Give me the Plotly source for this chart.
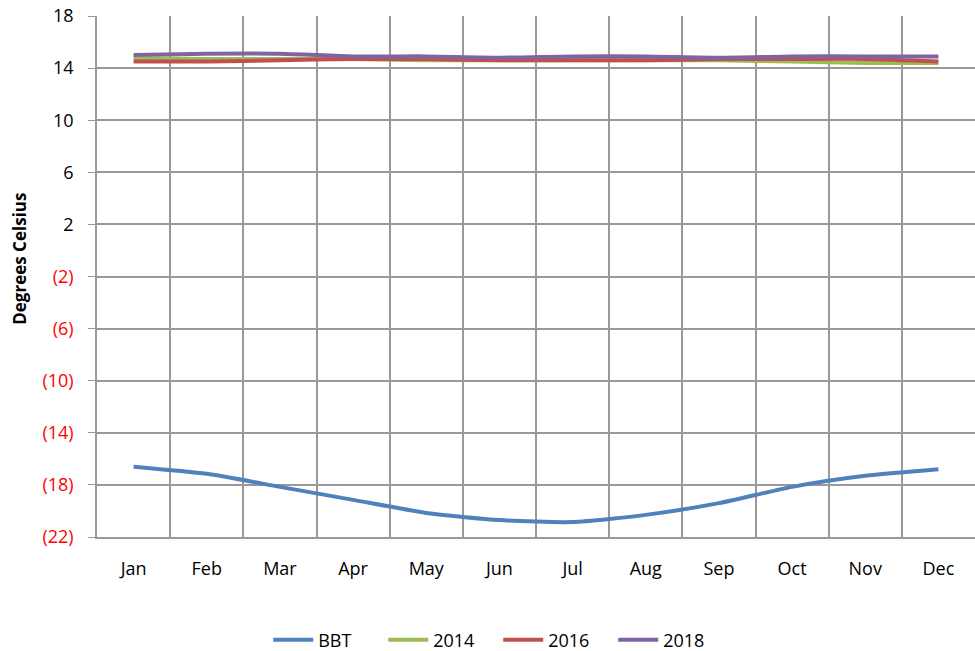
import plotly.graph_objects as go

months = ["Jan", "Feb", "Mar", "Apr", "May", "Jun", "Jul", "Aug", "Sep", "Oct", "Nov", "Dec"]
bbt = [-16.6, -17.15, -18.15, -19.15, -20.15, -20.7, -20.85, -20.3, -19.4, -18.15, -17.3, -16.8]
y2014 = [14.75, 14.7, 14.7, 14.7, 14.6, 14.6, 14.6, 14.6, 14.6, 14.5, 14.4, 14.4]
y2016 = [14.5, 14.5, 14.6, 14.7, 14.7, 14.6, 14.6, 14.6, 14.7, 14.7, 14.7, 14.5]
y2018 = [15.0, 15.1, 15.1, 14.9, 14.9, 14.8, 14.9, 14.9, 14.8, 14.9, 14.9, 14.9]

tick_vals = [18, 14, 10, 6, 2, -2, -6, -10, -14, -18, -22]
tick_text = [str(v) if v > 0 else '<span style="color:#ff0000">(%d)</span>' % abs(v) for v in tick_vals]

series = [("BBT", bbt, "#4f81bd"), ("2014", y2014, "#9bbb59"),
          ("2016", y2016, "#c0504d"), ("2018", y2018, "#8064a2")]

fig = go.Figure()
for name, vals, col in series:
    fig.add_trace(go.Scatter(x=months, y=vals, name=name, mode="lines",
                             line=dict(color=col, width=4, shape="spline", smoothing=0.6)))

fig.update_layout(
    width=975, height=651,
    margin=dict(l=97, r=0, t=16, b=114, autoexpand=False),
    paper_bgcolor="white", plot_bgcolor="white",
    font=dict(family="Open Sans, Lato, sans-serif", size=18, color="#000000"),
    legend=dict(orientation="h", x=0.457, xanchor="center", y=-0.198, yanchor="middle",
                font=dict(size=18), itemwidth=40, entrywidth=60, entrywidthmode="pixels"),
    showlegend=True,
)
fig.add_annotation(text="<b>Degrees Celsius</b>", xref="paper", yref="paper",
                   x=-0.0877, y=0.534, xanchor="center", yanchor="middle",
                   textangle=-90, showarrow=False,
                   font=dict(size=17, color="#000000"))
fig.update_xaxes(type="category", tickson="boundaries", range=[-0.5, 11.5],
                 showgrid=True, gridcolor="#999999",
                 gridwidth=1.5, showline=True, linecolor="#999999", linewidth=1.5,
                 ticks="", tickfont=dict(size=18), ticklabelstandoff=15, automargin=False)
fig.update_yaxes(range=[-22, 18], tickvals=tick_vals, ticktext=tick_text, showgrid=True,
                 gridcolor="#999999", gridwidth=1.5, showline=True, linecolor="#999999",
                 linewidth=1.5, ticks="outside", ticklen=7, tickcolor="#999999",
                 tickfont=dict(size=18), zeroline=False, automargin=False,
                 ticklabelstandoff=11, ticklabeloverflow="allow")

fig.write_html("out.html", post_script="document.body.style.margin='0';",
               config={"displayModeBar": False})
